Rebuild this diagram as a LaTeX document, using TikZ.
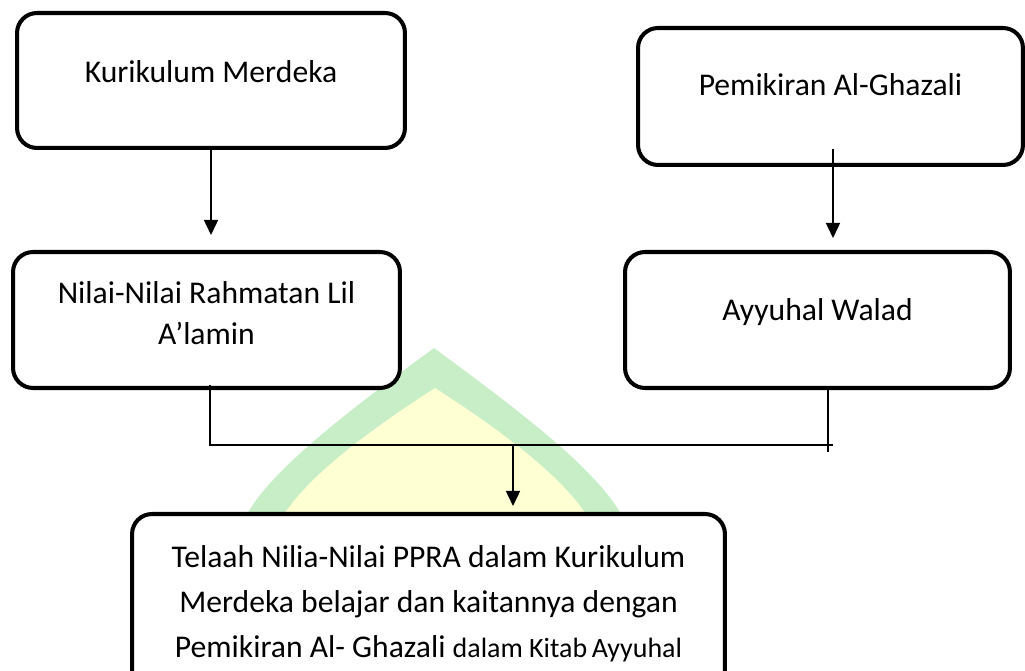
\documentclass[tikz,border=0pt]{standalone}
\usepackage{fontspec}
\setmainfont{Carlito}
\usepackage{tikz}
\usetikzlibrary{arrows.meta}
\definecolor{wmgreen}{RGB}{200,238,200}
\definecolor{wmyellow}{RGB}{255,255,212}

\begin{document}
\begin{tikzpicture}[x=0.02cm,y=-0.02cm,
    kotak/.style={draw,line width=2.3pt,rounded corners=0.4cm,fill=white,
      align=center,inner sep=0pt,font=\fontsize{18}{22.8}\selectfont},
    panah/.style={line width=0.85pt,-{Triangle[width=0.28cm,length=0.3cm]}},
    garis/.style={line width=0.85pt}]
        % batas gambar
        \clip (0,0) rectangle (1025,671);

        % watermark di belakang
        \fill[wmgreen] (240,680) -- (240,530) .. controls (255,480) and (350,410) .. (434,348)
          .. controls (518,410) and (613,480) .. (628,530) -- (628,680) -- cycle;
        \fill[wmyellow] (272,680) -- (272,540) .. controls (285,490) and (370,430) .. (435,388)
          .. controls (500,430) and (585,490) .. (598,540) -- (598,680) -- cycle;

        % kotak kiri
        \node[kotak,minimum width=7.76cm,minimum height=2.7cm,text depth=0.34cm] (km) at (211,80.5) {Kurikulum Merdeka};
        \node[kotak,minimum width=7.74cm,minimum height=2.72cm,text depth=0.28cm] (nr) at (206.5,320) {Nilai-Nilai Rahmatan Lil\\A’lamin};

        % kotak kanan
        \node[kotak,minimum width=7.7cm,minimum height=2.74cm,text depth=0.46cm] (pa) at (830.5,96.5) {Pemikiran Al-Ghazali};
        \node[kotak,minimum width=7.7cm,minimum height=2.72cm,text depth=0.4cm] (aw) at (817.5,320) {Ayyuhal Walad};

        % kotak bawah
        \node[kotak,minimum width=11.86cm,minimum height=3.6cm,font=\fontsize{18}{25.6}\selectfont] (tk) at (428.5,604)
          {Telaah Nilia-Nilai PPRA dalam Kurikulum\\Merdeka belajar dan kaitannya dengan\\Pemikiran Al- Ghazali {\fontsize{15.9}{25.6}\selectfont dalam Kitab\,Ayyuhal}};

        % panah atas
        \draw[panah,shorten >=0.3cm] (km.south) -- (km.south |- nr.north);
        \draw[panah,shorten >=0.24cm] ([xshift=0.05cm,yshift=0.36cm]pa.south) -- ([xshift=0.05cm]pa.south |- aw.north);

        % garis gabung
        \coordinate (j) at (513,445);
        \draw[garis] ([xshift=0.07cm,yshift=0.1cm]nr.south) |- ([xshift=0.31cm]aw.south |- j);
        \draw[garis] ([xshift=0.21cm]aw.south) -- ([xshift=0.21cm,yshift=-0.14cm]aw.south |- j);
        \draw[panah,shorten >=0.12cm] (j) -- (j |- tk.north);
    \end{tikzpicture}
\end{document}
